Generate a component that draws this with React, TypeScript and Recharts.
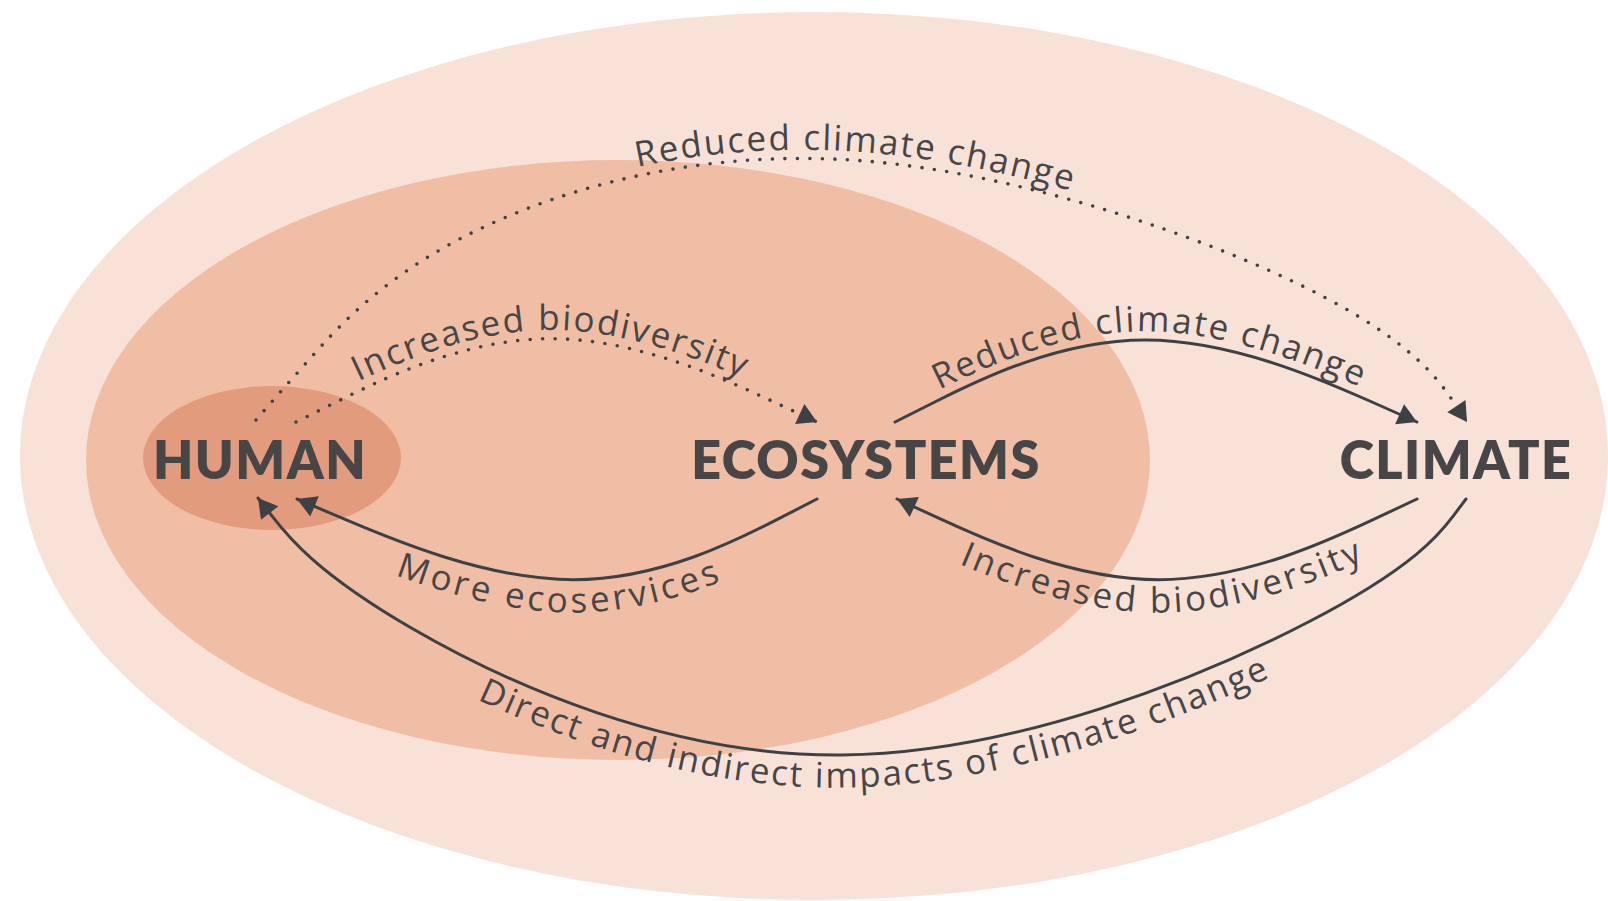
import React from "react";
import { ComposedChart, XAxis, YAxis, Line, Scatter, ReferenceArea } from "recharts";

const W = 1608;
const H = 901;
const INK = "#3e4143";
const TEXT = "#464646";

// nested zones (outer planet, ecosystems, human)
const ZONE_NAMES = ["planet", "nature", "society"];
const ZONE_CX = [814, 618, 272];
const ZONE_CY = [456, 460, 458];
const ZONE_RX = [794, 532, 129];
const ZONE_RY = [444, 300, 72];
const ZONE_FILL = ["#f8e2d7", "#f0bea5", "#e29c7d"];

// the three actors
const NODE_NAMES = ["HUMAN", "ECOSYSTEMS", "CLIMATE"];
const NODE_X = [260, 866, 1456];
const NODE_Y = [460, 460, 460];

// links, control points ordered from source to target
const LINK_LABELS = [
  "Reduced climate change",
  "Increased biodiversity",
  "Reduced climate change",
  "More ecoservices",
  "Increased biodiversity",
  "Direct and indirect impacts of climate change",
];
const LINK_DOTTED = [true, true, false, false, false, false];
const LINK_PATHS = [
  [{ x: 256, y: 420 }, { x: 295, y: 375 }, { x: 430, y: 225 }, { x: 840, y: 110 }, { x: 1385, y: 300 }, { x: 1467, y: 422 }],
  [{ x: 296, y: 422 }, { x: 548, y: 297 }, { x: 817, y: 422 }],
  [{ x: 895, y: 422 }, { x: 1140, y: 299 }, { x: 1417, y: 422 }],
  [{ x: 817, y: 499 }, { x: 582, y: 620 }, { x: 297, y: 499 }],
  [{ x: 1417, y: 499 }, { x: 1160, y: 620 }, { x: 897, y: 499 }],
  [{ x: 1466, y: 499 }, { x: 1390, y: 600 }, { x: 830, y: 830 }, { x: 345, y: 610 }, { x: 258, y: 498 }],
];
// where the label sits along its link, in percent
const LABEL_AT = [50, 49, 49, 50, 51, 51.2];
const LABEL_TRACKING = [2, 2, 2, 3.4, 3, 2];

type Pt = { x: number; y: number };

// same shape as the "basis" curve used by the Line
function basisPath(pts: Pt[]) {
  let d = "";
  let x0 = 0, y0 = 0, x1 = 0, y1 = 0;
  const bez = (x: number, y: number) => {
    d += `C${(2 * x0 + x1) / 3},${(2 * y0 + y1) / 3} ${(x0 + 2 * x1) / 3},${(y0 + 2 * y1) / 3} ${(x0 + 4 * x1 + x) / 6},${(y0 + 4 * y1 + y) / 6}`;
  };
  pts.forEach(({ x, y }, i) => {
    if (i === 0) d += `M${x},${y}`;
    else if (i >= 2) {
      if (i === 2) d += `L${(5 * x0 + x1) / 6},${(5 * y0 + y1) / 6}`;
      bez(x, y);
    }
    x0 = x1; y0 = y1; x1 = x; y1 = y;
  });
  if (pts.length >= 3) bez(x1, y1);
  d += `L${x1},${y1}`;
  return d;
}

function offsetPts(pts: Pt[], dist: number) {
  return pts.map((p, i) => {
    const a = pts[Math.max(0, i - 1)];
    const b = pts[Math.min(pts.length - 1, i + 1)];
    const dx = b.x - a.x;
    const dy = b.y - a.y;
    const len = Math.hypot(dx, dy) || 1;
    return { x: p.x + (dist * dy) / len, y: p.y - (dist * dx) / len };
  });
}

const renderDecor = (k: number) => (props: any) => {
  const { index, cx, cy } = props;
  const key = `decor-${k}-${index}`;
  const src = LINK_PATHS[k];
  const pts: Pt[] = props.points
    ? props.points.map((q: any) => ({ x: q.x, y: q.y }))
    : src.map((q) => ({ x: q.x + (cx - src[index].x), y: q.y + (cy - src[index].y) }));
  const last = pts.length - 1;

  if (index === last) {
    const prev = pts[last - 1];
    const len = Math.hypot(cx - prev.x, cy - prev.y) || 1;
    const ux = (cx - prev.x) / len;
    const uy = (cy - prev.y) / len;
    const s = 22;
    const bx = cx - ux * s * 0.866;
    const by = cy - uy * s * 0.866;
    const tri = `${cx},${cy} ${bx - (uy * s) / 2},${by + (ux * s) / 2} ${bx + (uy * s) / 2},${by - (ux * s) / 2}`;
    return <polygon key={key} points={tri} fill={INK} />;
  }

  if (index === 0) {
    let lp = pts.slice();
    if (lp[0].x > lp[last].x) lp = lp.reverse();
    const mid = lp[Math.floor(lp.length / 2)];
    const above = mid.y < (lp[0].y + lp[last].y) / 2;
    const d = basisPath(offsetPts(lp, above ? 9 : -34));
    const id = `link-label-${k}`;
    return (
      <g key={key}>
        <path id={id} d={d} fill="none" stroke="none" />
        <text
          fontFamily="'Open Sans', sans-serif"
          fontSize={35}
          letterSpacing={LABEL_TRACKING[k]}
          fill={TEXT}
          textAnchor="middle"
        >
          <textPath href={`#${id}`} startOffset={`${LABEL_AT[k]}%`}>
            {LINK_LABELS[k]}
          </textPath>
        </text>
      </g>
    );
  }
  return <g key={key} />;
};

const nodes = NODE_NAMES.map((name, i) => ({ name, x: NODE_X[i], y: NODE_Y[i] }));

const NodeLabel = (props: any) => (
  <text
    x={props.cx}
    y={props.cy + 19}
    textAnchor="middle"
    fontFamily="Lato, sans-serif"
    fontWeight={800}
    fontSize={52}
    letterSpacing={1.5}
    fill={TEXT}
  >
    {props.payload.name}
  </text>
);

export default function App() {
  return (
    <div style={{ position: "absolute", left: 0, top: 0, width: W, height: H, background: "#fff" }}>
      <ComposedChart width={W} height={H} margin={{ top: 0, right: 0, bottom: 0, left: 0 }}>
        <XAxis type="number" dataKey="x" domain={[0, W]} hide />
        <YAxis type="number" dataKey="y" domain={[0, H]} reversed hide />
        {ZONE_NAMES.map((z, i) => (
          <ReferenceArea
            key={z}
            x1={ZONE_CX[i] - ZONE_RX[i]}
            x2={ZONE_CX[i] + ZONE_RX[i]}
            y1={ZONE_CY[i] - ZONE_RY[i]}
            y2={ZONE_CY[i] + ZONE_RY[i]}
            ifOverflow="visible"
            shape={(p: any) => (
              <ellipse
                cx={p.x + p.width / 2}
                cy={p.y + p.height / 2}
                rx={Math.abs(p.width) / 2}
                ry={Math.abs(p.height) / 2}
                fill={ZONE_FILL[i]}
              />
            )}
          />
        ))}
        {LINK_PATHS.map((path, k) => (
          <Line
            key={`link-${k}`}
            data={path}
            dataKey="y"
            type="basis"
            stroke={INK}
            strokeWidth={LINK_DOTTED[k] ? 3.6 : 3}
            strokeDasharray={LINK_DOTTED[k] ? "0 12.5" : undefined}
            strokeLinecap="round"
            dot={renderDecor(k)}
            activeDot={false}
            legendType="none"
            isAnimationActive={false}
          />
        ))}
        <Scatter data={nodes} shape={NodeLabel} isAnimationActive={false} />
      </ComposedChart>
    </div>
  );
}
